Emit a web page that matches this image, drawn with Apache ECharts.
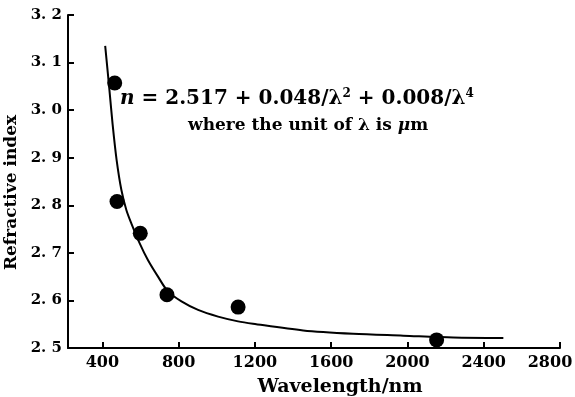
<!DOCTYPE html>
<html>
<head>
<meta charset="utf-8">
<script src="https://cdn.jsdelivr.net/npm/echarts@6/dist/echarts.min.js"></script>
<style>html,body{margin:0;padding:0;background:#fff}#c{width:575px;height:397px}</style>
</head>
<body>
<div id="c"></div>
<script>
// Measured data points (wavelength nm, refractive index)
var pointX = [465, 477, 599, 739, 1112, 2153];
var pointY = [3.057, 2.808, 2.741, 2.612, 2.586, 2.517];
// Fitted curve
var curveX = [415, 436, 454, 475, 500, 526, 552, 596, 639, 692, 744, 815, 902, 1007, 1112, 1190, 1453, 1715, 1978, 2240, 2503];
var curveY = [3.135, 3.048, 2.970, 2.895, 2.832, 2.790, 2.762, 2.720, 2.685, 2.650, 2.619, 2.598, 2.580, 2.566, 2.556, 2.551, 2.537, 2.530, 2.526, 2.522, 2.521];
var xTicks = [400, 800, 1200, 1600, 2000, 2400, 2800];
var yTicks = [2.5, 2.6, 2.7, 2.8, 2.9, 3.0, 3.1, 3.2];
var xName = 'Wavelength/nm';
var yName = 'Refractive index';

var FONT = '"DejaVu Serif", "Liberation Serif", serif';
var chart = echarts.init(document.getElementById('c'), null, {renderer: 'canvas'});
chart.setOption({
  animation: false,
  backgroundColor: '#fff',
  grid: {left: 68, right: 15, top: 15, bottom: 49, containLabel: false, outerBoundsMode: 'none'},
  xAxis: {
    type: 'value', min: 220, max: 2800,
    name: xName, nameLocation: 'middle', nameGap: 30,
    nameTextStyle: {fontFamily: FONT, fontWeight: 'bold', fontSize: 19, color: '#000', padding: [0, 0, 0, 52]},
    axisLine: {show: true, lineStyle: {color: '#000', width: 2}},
    axisTick: {show: true, inside: true, length: 6, lineStyle: {color: '#000', width: 2}, customValues: xTicks},
    axisLabel: {fontFamily: FONT, fontWeight: 'bold', fontSize: 16, color: '#000', margin: 7, customValues: xTicks,
      formatter: function (v) { return v === xTicks[xTicks.length - 1] ? '{r|' + v + '}' : String(v); },
      rich: {r: {fontFamily: FONT, fontWeight: 'bold', fontSize: 16, color: '#000', padding: [0, 20, 0, 0]}}},
    splitLine: {show: false}
  },
  yAxis: {
    type: 'value', min: 2.5, max: 3.2, interval: 0.1,
    name: yName, nameLocation: 'middle', nameGap: 43, nameRotate: 90,
    nameTextStyle: {fontFamily: FONT, fontWeight: 'bold', fontSize: 17, color: '#000', padding: [0, 22, 0, 0]},
    axisLine: {show: true, lineStyle: {color: '#000', width: 2}},
    axisTick: {show: true, inside: true, length: 6, lineStyle: {color: '#000', width: 2}},
    axisLabel: {fontFamily: FONT, fontWeight: 'bold', fontSize: 15, color: '#000', margin: 6,
      formatter: function (v) { return v.toFixed(1).replace('.', '. '); }},
    splitLine: {show: false}
  },
  series: [
    {
      type: 'line', data: curveX.map(function (x, i) { return [x, curveY[i]]; }),
      smooth: 0.3, showSymbol: false, lineStyle: {color: '#000', width: 2}, silent: true
    },
    {
      type: 'scatter', data: pointX.map(function (x, i) { return [x, pointY[i]]; }),
      symbol: 'circle', symbolSize: 15, itemStyle: {color: '#000', opacity: 1}
    }
  ],
  graphic: [
    {
      type: 'text', left: 120, top: 88,
      style: {
        text: '{i|n} = 2.517 + 0.048/λ{s|2} + 0.008/λ{s|4}',
        font: 'bold 20px ' + FONT, fill: '#000',
        rich: {
          i: {fontStyle: 'italic', fontFamily: FONT, fontWeight: 'bold', fontSize: 20},
          s: {fontFamily: FONT, fontSize: 12, fontWeight: 'bold', verticalAlign: 'top', padding: [0, 0, 10, 0]}
        }
      }
    },
    {
      type: 'text', left: 188, top: 117,
      style: {
        text: 'where the unit of λ is {i|μ}m',
        font: 'bold 17px ' + FONT, fill: '#000',
        rich: {i: {fontStyle: 'italic', fontFamily: FONT, fontWeight: 'bold', fontSize: 17}}
      }
    }
  ]
});
</script>
</body>
</html>
